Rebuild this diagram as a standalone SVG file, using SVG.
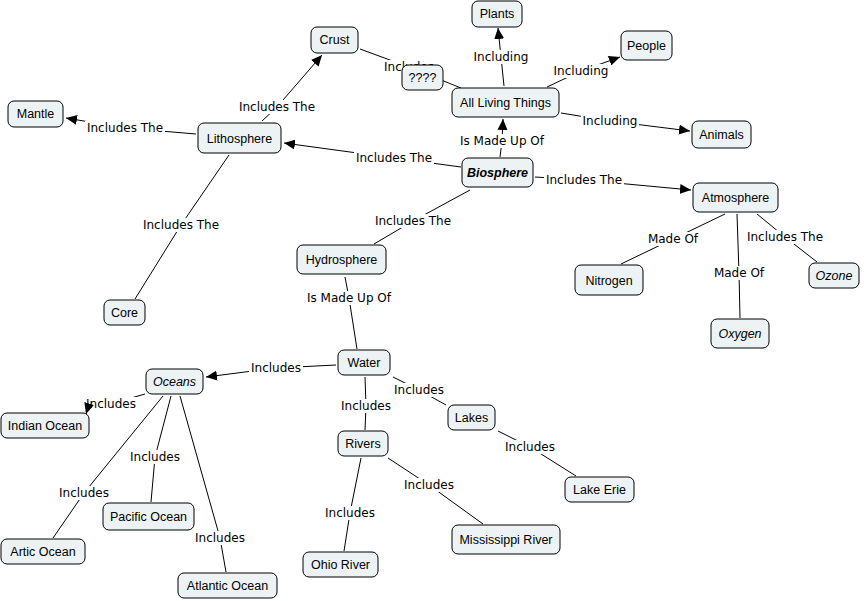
<svg xmlns="http://www.w3.org/2000/svg" width="864" height="601" viewBox="0 0 864 601">
<style>
.bg{fill:#ffffff}
.link{fill:none;stroke:#000;stroke-width:1}
.arr{marker-end:url(#ah)}
.lbg{fill:#ffffff}
.lt{font-family:"DejaVu Sans",Verdana,sans-serif;font-size:12px;fill:#000;text-anchor:middle}
.nb{fill:#edf3f5;stroke:#000;stroke-width:1}
.nt{font-family:"Liberation Sans",Arial,sans-serif;font-size:12.5px;fill:#000;text-anchor:middle}
.it{font-style:italic}
.bi{font-style:italic;font-weight:bold}
</style>
<defs>
<marker id="ah" markerUnits="userSpaceOnUse" markerWidth="12" markerHeight="10" refX="11" refY="5" orient="auto">
<path d="M0,0 L11,5 L0,10 z" fill="#000"/>
</marker>
</defs>
<rect class="bg" x="0" y="0" width="864" height="601"/>
<g id="connectors">
<polyline class="link" points="360,49 409,67 461,88"/>
<polyline class="link arr" points="504,86 501,57 498,28"/>
<polyline class="link arr" points="547,87 581,71 620,57"/>
<polyline class="link arr" points="561,113 610,121 690,131"/>
<polyline class="link arr" points="500,157 502,141 503,119"/>
<polyline class="link arr" points="461,167 394,158 284,143"/>
<polyline class="link arr" points="535,177 584,180 691,190"/>
<polyline class="link" points="470,190 413,221 374,244"/>
<polyline class="link arr" points="262,121 277,107 322,55"/>
<polyline class="link arr" points="196,134 125,128 66,118"/>
<polyline class="link" points="229,155 181,225 135,299"/>
<polyline class="link" points="725,214 673,239 621,264"/>
<polyline class="link" points="737,214 739,273 740,318"/>
<polyline class="link" points="757,214 785,237 817,262"/>
<polyline class="link" points="345,277 349,298 357,349"/>
<polyline class="link arr" points="336,365 276,368 206,377"/>
<polyline class="link" points="393,377 419,390 446,405"/>
<polyline class="link" points="365,377 366,406 365,430"/>
<polyline class="link" points="498,431 530,447 576,476"/>
<polyline class="link" points="388,458 429,485 483,524"/>
<polyline class="link" points="361,458 350,513 344,551"/>
<polyline class="link" points="145,394 110,404"/>
<polyline class="link" points="171,396 155,457 151,502"/>
<polyline class="link" points="163,396 84,493 53,538"/>
<polyline class="link" points="180,396 220,538 226,572"/>
<g id="link-labels">
<rect class="lbg" x="382" y="60" width="55" height="14"/><text class="lt" x="409" y="71">Includes</text>
<rect class="lbg" x="472" y="50" width="58" height="14"/><text class="lt" x="501" y="61">Including</text>
<rect class="lbg" x="552" y="64" width="58" height="14"/><text class="lt" x="581" y="75">Including</text>
<rect class="lbg" x="581" y="114" width="58" height="14"/><text class="lt" x="610" y="125">Including</text>
<rect class="lbg" x="458" y="134" width="88" height="14"/><text class="lt" x="502" y="145">Is Made Up Of</text>
<rect class="lbg" x="354" y="151" width="80" height="14"/><text class="lt" x="394" y="162">Includes The</text>
<rect class="lbg" x="544" y="173" width="80" height="14"/><text class="lt" x="584" y="184">Includes The</text>
<rect class="lbg" x="373" y="214" width="80" height="14"/><text class="lt" x="413" y="225">Includes The</text>
<rect class="lbg" x="237" y="100" width="80" height="14"/><text class="lt" x="277" y="111">Includes The</text>
<rect class="lbg" x="85" y="121" width="80" height="14"/><text class="lt" x="125" y="132">Includes The</text>
<rect class="lbg" x="141" y="218" width="80" height="14"/><text class="lt" x="181" y="229">Includes The</text>
<rect class="lbg" x="646" y="232" width="54" height="14"/><text class="lt" x="673" y="243">Made Of</text>
<rect class="lbg" x="712" y="266" width="54" height="14"/><text class="lt" x="739" y="277">Made Of</text>
<rect class="lbg" x="745" y="230" width="80" height="14"/><text class="lt" x="785" y="241">Includes The</text>
<rect class="lbg" x="305" y="291" width="88" height="14"/><text class="lt" x="349" y="302">Is Made Up Of</text>
<rect class="lbg" x="249" y="361" width="54" height="14"/><text class="lt" x="276" y="372">Includes</text>
<rect class="lbg" x="392" y="383" width="54" height="14"/><text class="lt" x="419" y="394">Includes</text>
<rect class="lbg" x="339" y="399" width="54" height="14"/><text class="lt" x="366" y="410">Includes</text>
<rect class="lbg" x="503" y="440" width="54" height="14"/><text class="lt" x="530" y="451">Includes</text>
<rect class="lbg" x="402" y="478" width="54" height="14"/><text class="lt" x="429" y="489">Includes</text>
<rect class="lbg" x="323" y="506" width="54" height="14"/><text class="lt" x="350" y="517">Includes</text>
<rect class="lbg" x="85" y="397" width="52" height="13"/><text class="lt" x="111" y="408">Includes</text>
<rect class="lbg" x="128" y="450" width="54" height="14"/><text class="lt" x="155" y="461">Includes</text>
<rect class="lbg" x="57" y="486" width="54" height="14"/><text class="lt" x="84" y="497">Includes</text>
<rect class="lbg" x="193" y="531" width="54" height="14"/><text class="lt" x="220" y="542">Includes</text>
</g>
<path class="link arr" d="M89,404 L86,414"/>
</g>
<g id="n-plants"><rect class="nb" x="472" y="1" width="50" height="26" rx="6"/><text class="nt" x="497" y="18">Plants</text></g>
<g id="n-crust"><rect class="nb" x="311" y="27" width="47" height="26" rx="6"/><text class="nt" x="334.5" y="44">Crust</text></g>
<g id="n-people"><rect class="nb" x="621" y="31" width="51" height="29" rx="6"/><text class="nt" x="646.5" y="50">People</text></g>
<g id="n-qqqq"><rect class="nb" x="402" y="65" width="41" height="25" rx="6"/><text class="nt" x="422.5" y="82">????</text></g>
<g id="n-all-living-things"><rect class="nb" x="452" y="88" width="107" height="29" rx="6"/><text class="nt" x="505.5" y="107">All Living Things</text></g>
<g id="n-mantle"><rect class="nb" x="8" y="101" width="55" height="26" rx="6"/><text class="nt" x="35.5" y="118">Mantle</text></g>
<g id="n-lithosphere"><rect class="nb" x="198" y="123" width="83" height="30" rx="6"/><text class="nt" x="239.5" y="142.5">Lithosphere</text></g>
<g id="n-animals"><rect class="nb" x="692" y="121" width="59" height="27" rx="6"/><text class="nt" x="721.5" y="139">Animals</text></g>
<g id="n-biosphere"><rect class="nb" x="462" y="158" width="71" height="29" rx="6"/><text class="nt bi" x="497.5" y="177">Biosphere</text></g>
<g id="n-atmosphere"><rect class="nb" x="693" y="183" width="85" height="29" rx="6"/><text class="nt" x="735.5" y="202">Atmosphere</text></g>
<g id="n-hydrosphere"><rect class="nb" x="297" y="245" width="89" height="29" rx="6"/><text class="nt" x="341.5" y="264">Hydrosphere</text></g>
<g id="n-nitrogen"><rect class="nb" x="575" y="265" width="68" height="30" rx="6"/><text class="nt" x="609" y="284.5">Nitrogen</text></g>
<g id="n-ozone"><rect class="nb" x="809" y="263" width="50" height="25" rx="6"/><text class="nt it" x="834" y="280">Ozone</text></g>
<g id="n-core"><rect class="nb" x="104" y="300" width="41" height="25" rx="6"/><text class="nt" x="124.5" y="317">Core</text></g>
<g id="n-oxygen"><rect class="nb" x="711" y="319" width="58" height="29" rx="6"/><text class="nt it" x="740" y="338">Oxygen</text></g>
<g id="n-water"><rect class="nb" x="338" y="350" width="52" height="25" rx="6"/><text class="nt" x="364" y="367">Water</text></g>
<g id="n-oceans"><rect class="nb" x="146" y="369" width="57" height="25" rx="6"/><text class="nt it" x="174.5" y="386">Oceans</text></g>
<g id="n-indian-ocean"><rect class="nb" x="1" y="413" width="88" height="25" rx="6"/><text class="nt" x="45" y="430">Indian Ocean</text></g>
<g id="n-lakes"><rect class="nb" x="448" y="405" width="47" height="25" rx="6"/><text class="nt" x="471.5" y="422">Lakes</text></g>
<g id="n-rivers"><rect class="nb" x="338" y="431" width="50" height="25" rx="6"/><text class="nt" x="363" y="448">Rivers</text></g>
<g id="n-lake-erie"><rect class="nb" x="565" y="477" width="69" height="25" rx="6"/><text class="nt" x="599.5" y="494">Lake Erie</text></g>
<g id="n-pacific-ocean"><rect class="nb" x="103" y="503" width="91" height="27" rx="6"/><text class="nt" x="148.5" y="521">Pacific Ocean</text></g>
<g id="n-mississippi-river"><rect class="nb" x="452" y="525" width="108" height="29" rx="6"/><text class="nt" x="506" y="544">Mississippi River</text></g>
<g id="n-artic-ocean"><rect class="nb" x="1" y="539" width="84" height="25" rx="6"/><text class="nt" x="43" y="556">Artic Ocean</text></g>
<g id="n-ohio-river"><rect class="nb" x="303" y="552" width="75" height="25" rx="6"/><text class="nt" x="340.5" y="569">Ohio River</text></g>
<g id="n-atlantic-ocean"><rect class="nb" x="178" y="573" width="99" height="25" rx="6"/><text class="nt" x="227.5" y="590">Atlantic Ocean</text></g>
</svg>
